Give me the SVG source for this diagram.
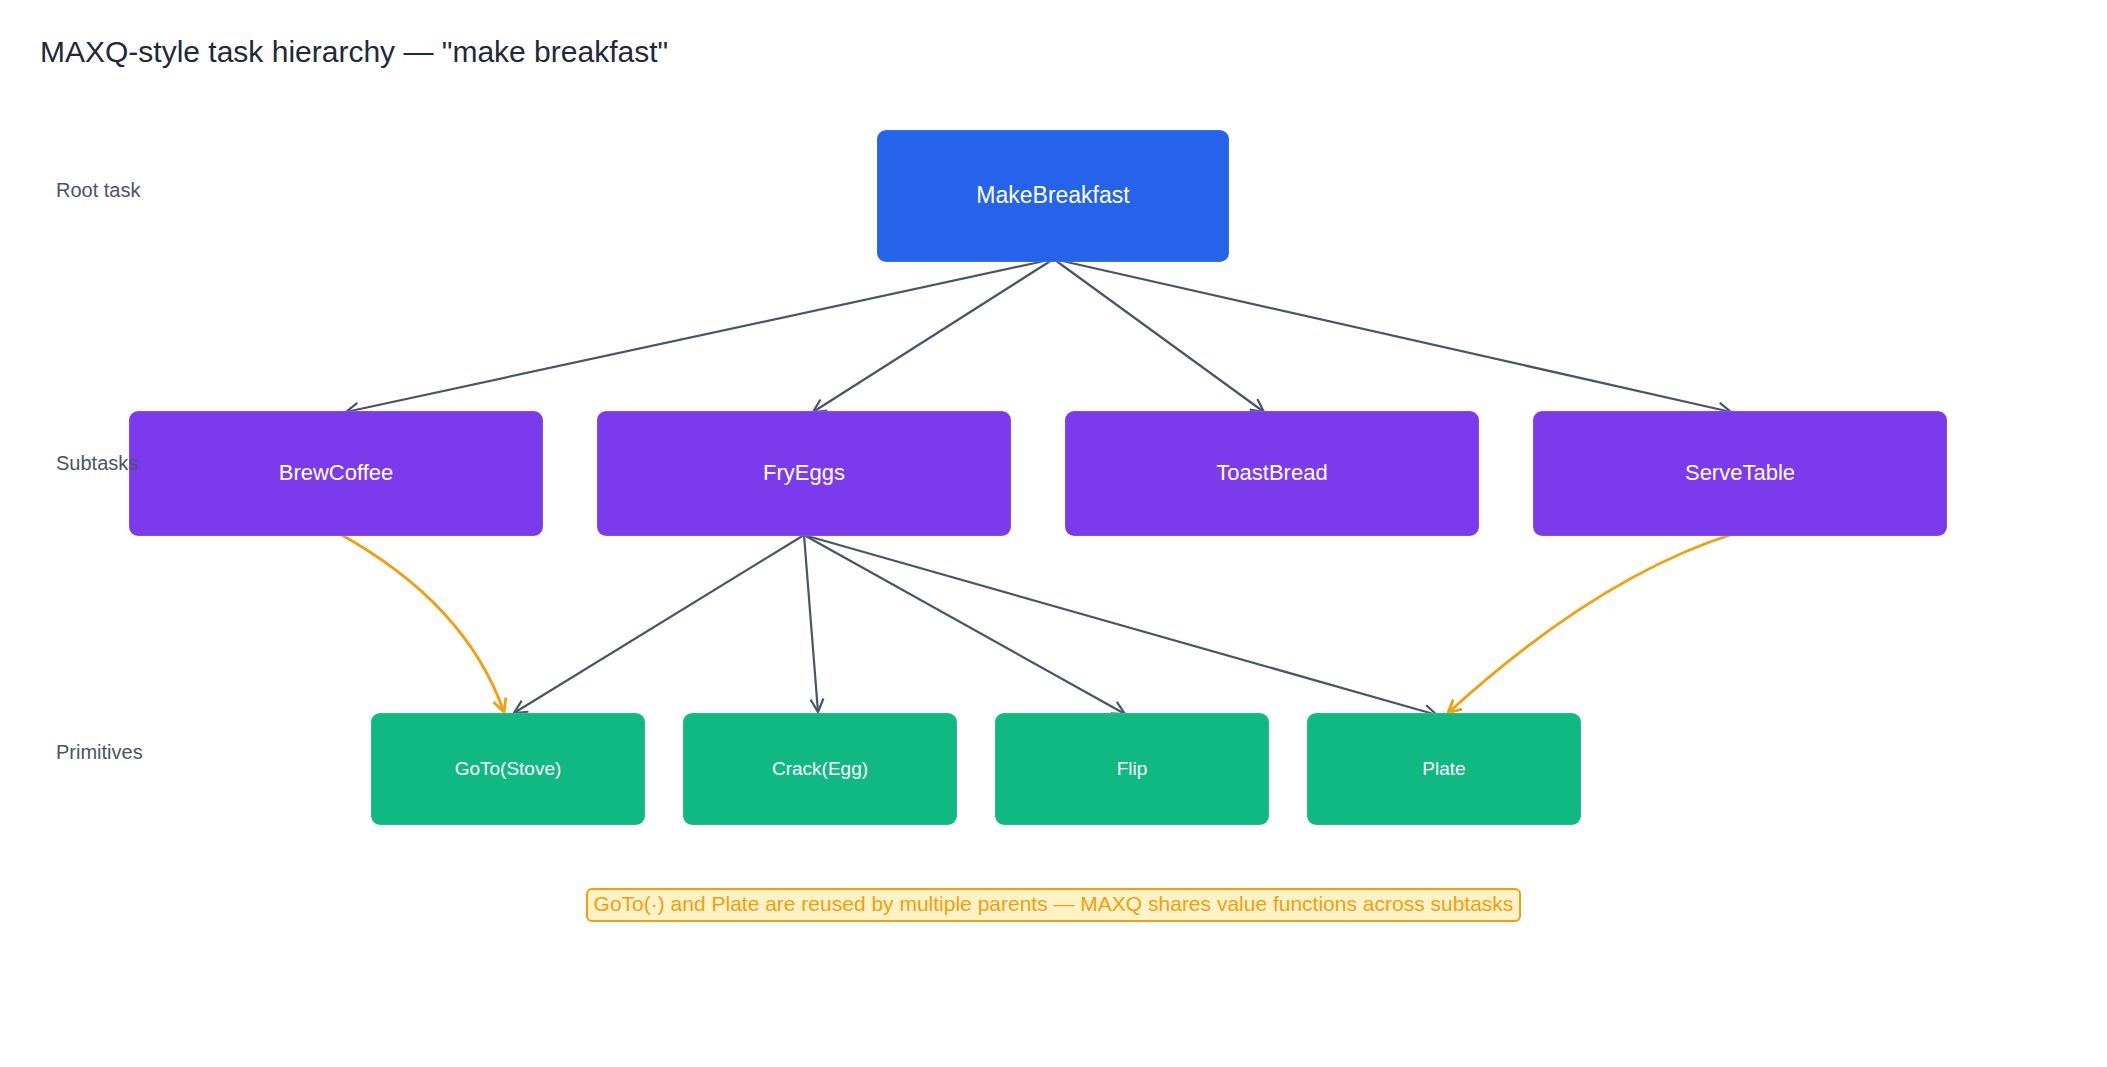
<svg xmlns="http://www.w3.org/2000/svg" width="2107" height="1067" viewBox="0 0 2107 1067">
  <style>
    text { font-family: "Liberation Sans", Arial, Helvetica, sans-serif; }
    .title { font-size: 30px; fill: #1e293b; }
    .lvl { font-size: 20px; fill: #475569; }
    .lbl { fill: #ffffff; text-anchor: middle; }
    .root rect { fill: #2563EB; }
    .sub rect { fill: #7C3AED; }
    .prim rect { fill: #10B981; }
    .node rect { stroke: #ffffff; stroke-opacity: 0.18; stroke-width: 1; }
    .edge { fill: none; stroke: #475569; stroke-width: 2.2; }
    .share { fill: none; stroke: #F59E0B; stroke-width: 2.8; }
    .note rect { fill: #FEF3C7; stroke: #F59E0B; stroke-width: 2; }
    .note text { font-size: 21px; fill: #F59E0B; text-anchor: middle; }
  </style>
  <defs>
    <marker id="arrow" markerUnits="userSpaceOnUse" markerWidth="17" markerHeight="17" refX="14" refY="7.5" orient="auto">
      <path d="M1,1 L14,7.5 L1,14" fill="none" stroke="#475569" stroke-width="2.2"/>
    </marker>
    <marker id="arrowO" markerUnits="userSpaceOnUse" markerWidth="18" markerHeight="18" refX="14" refY="8" orient="auto">
      <path d="M1,1.5 L14,8 L1,14.5" fill="none" stroke="#F59E0B" stroke-width="2.8"/>
    </marker>
  </defs>
  <rect x="0" y="0" width="2107" height="1067" fill="#ffffff"/>

  <text class="title" x="40" y="62">MAXQ-style task hierarchy — "make breakfast"</text>

  <g id="connectors">
    <line class="edge" x1="1049" y1="260" x2="346" y2="412" marker-end="url(#arrow)"/>
    <line class="edge" x1="1052" y1="260" x2="813" y2="412" marker-end="url(#arrow)"/>
    <line class="edge" x1="1055" y1="260" x2="1264" y2="412" marker-end="url(#arrow)"/>
    <line class="edge" x1="1058" y1="260" x2="1731" y2="412" marker-end="url(#arrow)"/>
    <line class="edge" x1="804" y1="535" x2="514" y2="713" marker-end="url(#arrow)"/>
    <line class="edge" x1="804" y1="535" x2="818" y2="712" marker-end="url(#arrow)"/>
    <line class="edge" x1="804" y1="535" x2="1125" y2="714" marker-end="url(#arrow)"/>
    <line class="edge" x1="804" y1="535" x2="1437" y2="715" marker-end="url(#arrow)"/>
    <path class="share" d="M340,534 Q466,604 504,712" marker-end="url(#arrowO)"/>
    <path class="share" d="M1736,533 Q1598,576 1448,713" marker-end="url(#arrowO)"/>
  </g>

  <g id="MakeBreakfast" class="node root">
    <rect x="877" y="130" width="352" height="132" rx="9"/>
    <text class="lbl" x="1053" y="203" font-size="23">MakeBreakfast</text>
  </g>

  <g id="BrewCoffee" class="node sub">
    <rect x="129" y="411" width="414" height="125" rx="9"/>
    <text class="lbl" x="336" y="480" font-size="22">BrewCoffee</text>
  </g>
  <g id="FryEggs" class="node sub">
    <rect x="597" y="411" width="414" height="125" rx="9"/>
    <text class="lbl" x="804" y="480" font-size="22">FryEggs</text>
  </g>
  <g id="ToastBread" class="node sub">
    <rect x="1065" y="411" width="414" height="125" rx="9"/>
    <text class="lbl" x="1272" y="480" font-size="22">ToastBread</text>
  </g>
  <g id="ServeTable" class="node sub">
    <rect x="1533" y="411" width="414" height="125" rx="9"/>
    <text class="lbl" x="1740" y="480" font-size="22">ServeTable</text>
  </g>

  <g id="GoTo" class="node prim">
    <rect x="371" y="713" width="274" height="112" rx="9"/>
    <text class="lbl" x="508" y="775" font-size="19">GoTo(Stove)</text>
  </g>
  <g id="Crack" class="node prim">
    <rect x="683" y="713" width="274" height="112" rx="9"/>
    <text class="lbl" x="820" y="775" font-size="19">Crack(Egg)</text>
  </g>
  <g id="Flip" class="node prim">
    <rect x="995" y="713" width="274" height="112" rx="9"/>
    <text class="lbl" x="1132" y="775" font-size="19">Flip</text>
  </g>
  <g id="Plate" class="node prim">
    <rect x="1307" y="713" width="274" height="112" rx="9"/>
    <text class="lbl" x="1444" y="775" font-size="19">Plate</text>
  </g>

  <g id="level-labels">
    <text class="lvl" x="56" y="197">Root task</text>
    <text class="lvl" x="56" y="470">Subtasks</text>
    <text class="lvl" x="56" y="759">Primitives</text>
  </g>

  <g id="note" class="note">
    <rect x="587" y="889" width="933" height="32" rx="5"/>
    <text x="1053.5" y="911">GoTo(·) and Plate are reused by multiple parents — MAXQ shares value functions across subtasks</text>
  </g>
</svg>
